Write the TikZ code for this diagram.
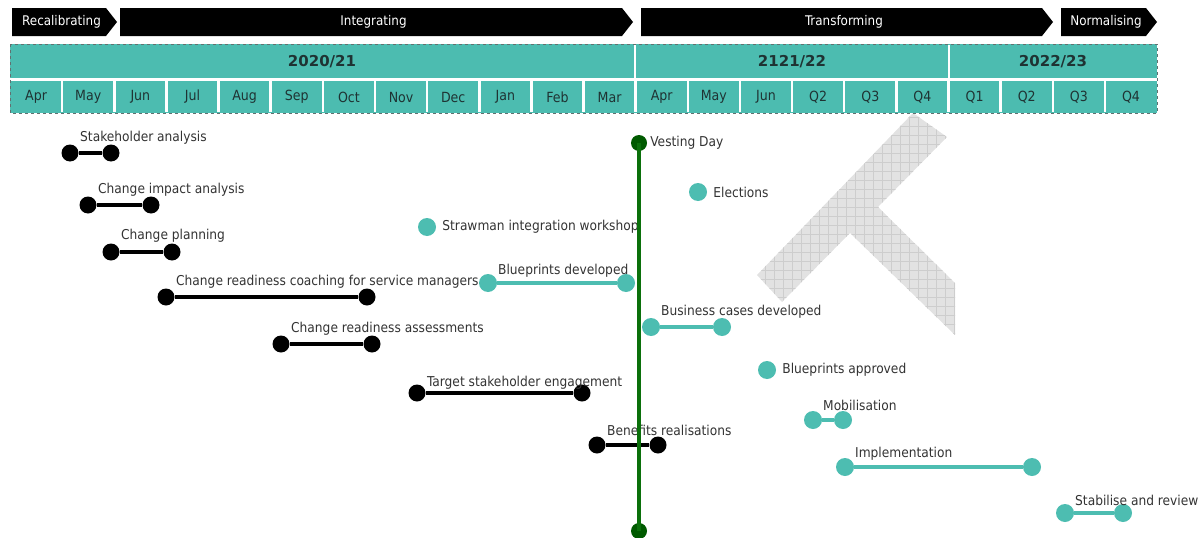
\documentclass[tikz,border=0pt]{standalone}
\usepackage{fontspec}
\setmainfont{DejaVu Sans Condensed}
\newfontfamily\yearfont{DejaVu Sans}
\usetikzlibrary{positioning}
\definecolor{bandteal}{HTML}{4CBCB0}
\definecolor{dotteal}{HTML}{4DBDB1}
\definecolor{headtext}{HTML}{1F3333}
\definecolor{labeltext}{HTML}{333333}
\definecolor{vestgreen}{HTML}{0B700B}
\definecolor{vestdot}{HTML}{005A00}
\definecolor{markgray}{HTML}{E2E2E2}
\definecolor{markgrid}{HTML}{CDCDCD}
\begin{document}
\begin{tikzpicture}
[x=1pt,y=-1pt,
  phasetext/.style={text=white,font=\fontsize{13.3}{15}\selectfont,inner sep=0pt},%
  monthtext/.style={text=headtext,font=\fontsize{14}{16}\selectfont,inner sep=0pt},%
  yeartext/.style={text=headtext,font=\yearfont\bfseries\fontsize{15}{17}\selectfont,inner sep=0pt},%
  blackdot/.style={shape=circle,fill=black,inner sep=0pt,minimum size=17pt},%
  tealdot/.style={shape=circle,fill=dotteal,inner sep=0pt,minimum size=18pt},%
  blackbar/.style={-,line width=4.5pt,draw=black},%
  tealbar/.style={-,line width=4.5pt,draw=dotteal},%
  tasklabel/.style={text=labeltext,font=\fontsize{13.6}{16}\selectfont,inner sep=0pt,anchor=west}]
\useasboundingbox (0,0) rectangle (1200,538);
%% watermark
\begin{scope}
\clip (757,275) -- (913,113) -- (947,137) -- (878,207) -- (955,283)
  -- (955,335) -- (850,233) -- (782,302) -- cycle;
\fill[markgray] (740,100) rectangle (960,340);
\draw[markgrid,line width=0.5pt,step=9pt] (740,100) grid (960,340);
\end{scope}
%% phases
\foreach \phasename/\xa/\xb/\txt in {recal/12/117/Recalibrating, integ/120/633/Integrating,
  trans/641/1053/Transforming, norm/1061/1157/Normalising} {
  \fill[black] (\xa,8) -- ({\xb-11},8) -- (\xb,22) -- ({\xb-11},36) -- (\xa,36) -- cycle;
  \node[phasetext] (\phasename) at ({(\xa+\xb)/2-3},22) {\txt};
}
%% timeline header
\fill[bandteal] (10,44) rectangle (1157,113);
\draw[white,line width=3pt] (10,79) -- (1157,79);
\foreach \i in {1,...,21} {
  \draw[white,line width=2.5pt] ({10+52.14*\i},80) -- ({10+52.14*\i},112);
}
\draw[white,line width=2.5pt] (635,45) -- (635,80);
\draw[white,line width=2.5pt] (949,45) -- (949,80);
\draw[headtext!70,dashed,line width=0.8pt] (10,44) rectangle (1157,113);
\foreach \yearname/\x/\txt in {ya/322/{2020/21}, yb/792/{2121/22}, yc/1053/{2022/23}} {
  \node[yeartext] (\yearname) at (\x,62) {\txt};
}
\foreach \i/\m in {0/Apr,1/May,2/Jun,3/Jul,4/Aug,5/Sep,6/Oct,7/Nov,8/Dec,9/Jan,10/Feb,11/Mar,
  12/Apr,13/May,14/Jun,15/Q2,16/Q3,17/Q4,18/Q1,19/Q2,20/Q3,21/Q4} {
  \node[monthtext] (m\i) at ({10+52.14*(\i+0.5)},97) {\m};
}
%% black tasks
\foreach \taskname/\xa/\xb/\y/\dy/\txt in {sa/70/111/153/15/Stakeholder analysis,
  cia/88/151/205/15/Change impact analysis, cp/111/172/252/16/Change planning,
  crc/166/367/297/15/Change readiness coaching for service managers,
  cra/281/372/344/15/Change readiness assessments,
  tse/417/582/393/10/Target stakeholder engagement,
  br/597/658/445/15/Benefits realisations} {
  \node (\taskname-a) at (\xa,\y) [blackdot] {};
  \node (\taskname-b) at (\xb,\y) [blackdot] {};
  \draw[blackbar] (\taskname-a) -- (\taskname-b);
  \node (\taskname-t) at ({\xa+10},{\y-\dy}) [tasklabel] {\txt};
}
%% teal tasks
\foreach \taskname/\xa/\xb/\y/\dy/\txt in {bd/488/626/283/12/Blueprints developed,
  bcd/651/722/327/15/Business cases developed, mob/813/843/420/15/Mobilisation,
  imp/845/1032/467/13/Implementation, sr/1065/1123/513/13/Stabilise and review} {
  \node (\taskname-a) at (\xa,\y) [tealdot] {};
  \node (\taskname-b) at (\xb,\y) [tealdot] {};
  \draw[tealbar] (\taskname-a) -- (\taskname-b);
  \node (\taskname-t) at ({\xa+10},{\y-\dy}) [tasklabel] {\txt};
}
%% milestones
\foreach \msname/\x/\y/\txt in {el/698/192/Elections, sw/427/227/Strawman integration workshop,
  ba/767/370/Blueprints approved} {
  \node (\msname) at (\x,\y) [tealdot] {};
  \node (\msname-t) [tasklabel,right=6pt of \msname] {\txt};
}
%% vesting day
\node (vest-a) at (639,143) [shape=circle,fill=vestdot,inner sep=0pt,minimum size=16pt] {};
\node (vest-b) at (639,531) [shape=circle,fill=vestdot,inner sep=0pt,minimum size=16pt] {};
\draw[vestgreen,line width=4.5pt] (vest-a.center) -- (vest-b.center);
\node (vest-t) [tasklabel,right=3pt of vest-a] {Vesting Day};
\end{tikzpicture}
\end{document}
